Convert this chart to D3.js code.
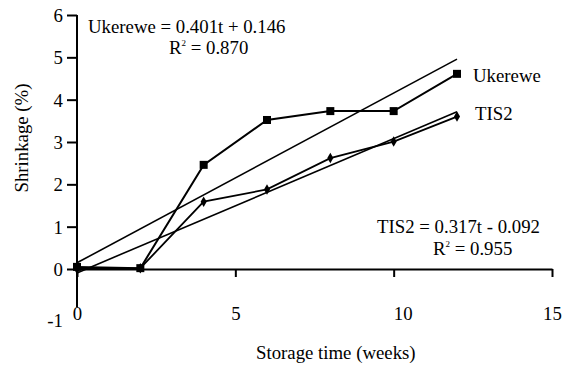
<!DOCTYPE html>
<html>
<head>
<meta charset="utf-8">
<script src="https://cdn.jsdelivr.net/npm/d3@7"></script>
</head>
<body style="margin:0; background:#fff">
<div id="chart"></div>
<script>
// storage time in weeks
const weeks = [0, 2, 4, 6, 8, 10, 12];
const ukerewe = [0.05, 0.02, 2.46, 3.52, 3.73, 3.73, 4.61];
const tis2 = [0.0, 0.02, 1.59, 1.88, 2.62, 3.01, 3.6];
// regression fits: slope, intercept
const ukereweFit = [0.401, 0.146];
const tis2Fit = [0.317, -0.092];
const xTicks = [0, 5, 10, 15];
const yTicks = [0, 1, 2, 3, 4, 5, 6];

const width = 563, height = 368;
const FONT = "Liberation Serif";
const FS = 18.8;

const svg = d3.select("#chart").append("svg")
    .attr("width", width)
    .attr("height", height)
    .attr("font-family", FONT);

const x = d3.scaleLinear().domain([0, 15]).range([77, 552]);
const y = d3.scaleLinear().domain([0, 6]).range([269, 15]);

// y axis (ticks 0..6, the -1 label sits below the axis end)
const yAxis = svg.append("g")
    .attr("transform", "translate(" + x(0) + ",0)")
    .call(d3.axisLeft(y).tickValues(yTicks).tickSize(10).tickSizeOuter(0).tickFormat(d => String(d)))
    .attr("font-family", FONT)
    .attr("font-size", FS);
yAxis.select(".domain").attr("stroke-width", 2).attr("d", "M0," + (y(-1) - 4) + "V" + y(6));
yAxis.selectAll(".tick line").attr("stroke-width", 2);
yAxis.selectAll(".tick text").attr("x", -14).attr("dy", "0.34em");
yAxis.append("text")
    .attr("x", -14).attr("y", y(-1) + 9).attr("dy", "0.34em")
    .attr("fill", "#000")
    .text("-1");

// x axis along y = 0, labels pushed down to the bottom
const xAxis = svg.append("g")
    .attr("transform", "translate(0," + y(0) + ")")
    .call(d3.axisBottom(x).tickValues(xTicks).tickSize(8).tickSizeOuter(0))
    .attr("font-family", FONT)
    .attr("font-size", FS);
xAxis.select(".domain").attr("stroke-width", 2);
xAxis.selectAll(".tick line").attr("stroke-width", 2);
xAxis.selectAll(".tick text")
    .attr("y", 51).attr("dy", 0)
    .attr("dx", d => d === 10 ? 9 : 0);

// trend lines
function fitLine(f) {
    return [[0, f[1]], [12, f[0] * 12 + f[1]]];
}
const line = d3.line().x(d => x(d[0])).y(d => y(d[1]));
[ukereweFit, tis2Fit].forEach(f => {
    svg.append("path")
        .attr("d", line(fitLine(f)))
        .attr("fill", "none")
        .attr("stroke", "#000")
        .attr("stroke-width", 1.6);
});

// data series
const uPts = weeks.map((w, i) => [w, ukerewe[i]]);
const tPts = weeks.map((w, i) => [w, tis2[i]]);

svg.append("path").attr("d", line(tPts))
    .attr("fill", "none").attr("stroke", "#000").attr("stroke-width", 1.8);
svg.append("path").attr("d", line(uPts))
    .attr("fill", "none").attr("stroke", "#000").attr("stroke-width", 2);

svg.selectAll(".dia").data(tPts).enter().append("path")
    .attr("transform", d => "translate(" + x(d[0]) + "," + y(d[1]) + ")")
    .attr("d", d3.symbol().type(d3.symbolDiamond).size(32));
svg.selectAll(".sq").data(uPts).enter().append("rect")
    .attr("x", d => x(d[0]) - 4)
    .attr("y", d => y(d[1]) - 4)
    .attr("width", 8).attr("height", 8);

// labels
function label(tx, ty, txt, anchor) {
    return svg.append("text").attr("x", tx).attr("y", ty)
        .attr("text-anchor", anchor || "start")
        .attr("font-family", FONT)
        .attr("font-size", FS).text(txt);
}
label(473, 82, "Ukerewe");
label(475, 120, "TIS2");

label(88, 33, "Ukerewe = 0.401t + 0.146");
const r1 = label(169, 54, "R");
r1.append("tspan").attr("dy", -8).attr("font-size", 9).text("2");
r1.append("tspan").attr("dy", 8).text(" = 0.870");

label(377, 233, "TIS2 = 0.317t - 0.092");
const r2 = label(433, 255, "R");
r2.append("tspan").attr("dy", -8).attr("font-size", 9).text("2");
r2.append("tspan").attr("dy", 8).text(" = 0.955");

// axis titles
label(256, 359, "Storage time (weeks)");
svg.append("text")
    .attr("transform", "translate(28,138) rotate(-90)")
    .attr("text-anchor", "middle")
    .attr("font-family", FONT)
    .attr("font-size", FS)
    .text("Shrinkage (%)");
</script>
</body>
</html>
